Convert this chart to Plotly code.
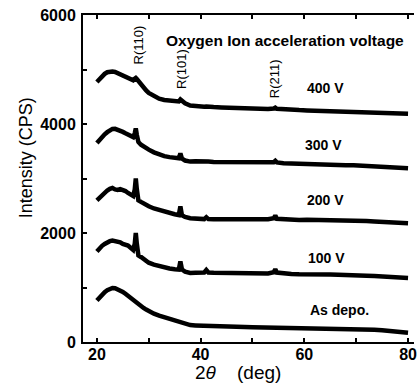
import plotly.graph_objects as go

# 2-theta scan positions (deg)
two_theta = [20, 20.5, 21, 21.5, 22, 22.5, 23, 23.5, 24, 24.5,
             25, 25.5, 26, 26.5, 27, 27.3, 27.5, 27.7, 28, 28.5,
             29, 29.5, 30, 31, 32, 33, 34, 35, 35.8, 36.1,
             36.4, 37, 38, 39, 40, 40.7, 41.1, 41.5, 42.5, 44,
             45.5, 47, 48.5, 50, 51.5, 53, 54.1, 54.4, 54.7, 56,
             57.5, 59, 60.5, 62, 63.5, 65, 66.5, 68, 69.5, 70.5,
             72, 73.5, 75, 76.5, 78, 79, 80]

# Intensity (CPS) for each film, offset stacked
as_depo = [760, 820, 870, 915, 950, 975, 990, 985, 970, 950,
           920, 885, 845, 800, 760, 740, 725, 712, 690, 655,
           625, 595, 565, 520, 485, 455, 425, 400, 375, 360,
           345, 325, 310, 305, 300, 298, 295, 292, 290, 288,
           283, 280, 276, 272, 270, 268, 266, 268, 265, 262,
           260, 256, 255, 258, 252, 250, 247, 243, 240, 238,
           232, 225, 215, 205, 192, 180, 168]
v100 = [1660, 1720, 1765, 1800, 1830, 1850, 1862, 1855, 1845, 1830,
        1800, 1790, 1770, 1730, 1690, 1800, 2000, 1800, 1590, 1560,
        1530, 1490, 1455, 1420, 1390, 1365, 1350, 1335, 1330, 1480,
        1330, 1290, 1268, 1270, 1272, 1275, 1320, 1275, 1270, 1268,
        1262, 1265, 1258, 1262, 1255, 1258, 1280, 1335, 1275, 1255,
        1250, 1245, 1248, 1240, 1245, 1238, 1235, 1232, 1240, 1228,
        1215, 1210, 1200, 1196, 1188, 1182, 1175]
v200 = [2600, 2650, 2700, 2745, 2780, 2810, 2825, 2800, 2790, 2805,
        2795, 2770, 2735, 2705, 2680, 2800, 3000, 2800, 2600, 2570,
        2540, 2510, 2490, 2450, 2420, 2395, 2370, 2345, 2330, 2490,
        2325, 2295, 2270, 2258, 2252, 2255, 2290, 2255, 2252, 2250,
        2248, 2252, 2245, 2250, 2248, 2252, 2270, 2320, 2262, 2250,
        2245, 2240, 2245, 2242, 2240, 2235, 2232, 2230, 2245, 2230,
        2220, 2212, 2205, 2200, 2195, 2188, 2180]
v300 = [3650, 3710, 3765, 3810, 3850, 3885, 3910, 3912, 3900, 3880,
        3855, 3830, 3805, 3780, 3760, 3830, 3920, 3800, 3670, 3620,
        3585, 3555, 3530, 3480, 3440, 3410, 3392, 3375, 3370, 3460,
        3365, 3330, 3310, 3315, 3320, 3315, 3318, 3310, 3305, 3302,
        3300, 3295, 3292, 3290, 3285, 3290, 3300, 3325, 3295, 3282,
        3275, 3270, 3268, 3265, 3258, 3250, 3250, 3245, 3245, 3240,
        3232, 3225, 3212, 3208, 3200, 3195, 3190]
v400 = [4770, 4830, 4880, 4920, 4950, 4962, 4962, 4955, 4935, 4910,
        4885, 4860, 4840, 4815, 4800, 4830, 4845, 4825, 4785, 4720,
        4670, 4615, 4570, 4505, 4465, 4442, 4425, 4412, 4415, 4450,
        4430, 4380, 4340, 4325, 4320, 4318, 4322, 4315, 4312, 4305,
        4298, 4292, 4288, 4282, 4278, 4275, 4285, 4300, 4280, 4268,
        4262, 4255, 4250, 4245, 4238, 4230, 4235, 4235, 4228, 4225,
        4222, 4218, 4210, 4205, 4200, 4195, 4190]

series = [as_depo, v100, v200, v300, v400]

# Sample labels placed beside each curve
sample_labels = ["As depo.", "100 V", "200 V", "300 V", "400 V"]
label_x = [60.7, 60.3, 60.1, 59.7, 60.1]
label_y = [590, 1540, 2600, 3615, 4660]

# Reflection markers (rutile)
peak_labels = ["R(110)", "R(101)", "R(211)"]
peak_x = [28.2, 36.4, 54.4]
peak_y = [5450, 5010, 4826]

y_ticks = [0, 1000, 2000, 3000, 4000, 5000, 6000]
y_ticktext = ["0", "", "2000", "", "4000", "", "6000"]
x_ticks = [20, 30, 40, 50, 60, 70, 80]
x_ticktext = ["20", "", "40", "", "60", "", "80"]

FONT = "Liberation Sans, Arial, sans-serif"

fig = go.Figure()
for ys in series:
    fig.add_trace(go.Scatter(x=two_theta, y=ys, mode="lines",
                             line=dict(color="black", width=4.5),
                             showlegend=False, hoverinfo="skip"))

annotations = []
for t, x, y in zip(sample_labels, label_x, label_y):
    annotations.append(dict(x=x, y=y, xref="x", yref="y", text=f"<b>{t}</b>",
                            showarrow=False, xanchor="left", yanchor="middle",
                            font=dict(size=14, family=FONT, color="black")))
for t, x, y in zip(peak_labels, peak_x, peak_y):
    annotations.append(dict(x=x, y=y, xref="x", yref="y", text=t, textangle=-90,
                            showarrow=False, xanchor="center", yanchor="middle",
                            font=dict(size=13, family=FONT, color="black")))
annotations.append(dict(x=33.0, y=5540, xref="x", yref="y",
                        text="<b>Oxygen Ion acceleration voltage</b>",
                        showarrow=False, xanchor="left", yanchor="middle",
                        font=dict(size=15.5, family=FONT, color="black")))
annotations.append(dict(x=-0.174, y=0.563, xref="paper", yref="paper",
                        text="Intensity (CPS)", textangle=-90, showarrow=False,
                        xanchor="center", yanchor="middle",
                        font=dict(size=18, family=FONT, color="black")))
annotations.append(dict(x=0.467, y=-0.094, xref="paper", yref="paper",
                        text="2<i>θ</i>    (deg)", showarrow=False,
                        xanchor="center", yanchor="middle",
                        font=dict(size=19, family=FONT, color="black")))

fig.update_layout(
    width=420, height=385,
    margin=dict(l=83, r=3, t=15, b=43),
    plot_bgcolor="white", paper_bgcolor="white",
    annotations=annotations,
    xaxis=dict(range=[17.32, 81.15], tickvals=x_ticks, ticktext=x_ticktext,
               ticks="inside", ticklen=4, tickwidth=1.5, tickcolor="black",
               showline=True, linecolor="black", linewidth=2, mirror="ticks",
               showgrid=False, zeroline=False, ticklabelstandoff=-3,
               tickfont=dict(size=16, family=FONT, color="black", weight="bold")),
    yaxis=dict(range=[0, 6000], tickvals=y_ticks, ticktext=y_ticktext,
               ticks="inside", ticklen=4, tickwidth=1.5, tickcolor="black",
               showline=True, linecolor="black", linewidth=2,
               showgrid=False, zeroline=False, ticklabelstandoff=2,
               tickfont=dict(size=16, family=FONT, color="black", weight="bold")),
)

fig.write_html("out.html")
